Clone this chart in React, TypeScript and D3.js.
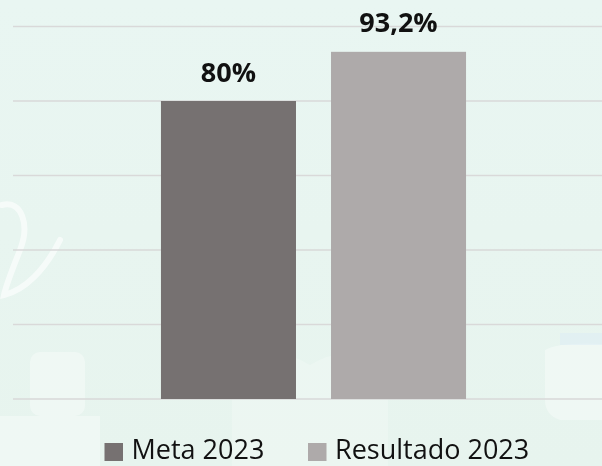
import React from "react";
import * as d3 from "d3";

const categories = ["2023"];
const series = ["Meta 2023", "Resultado 2023"];
const values = [80, 93.2];
const valueLabels = ["80%", "93,2%"];
const yTicks = [0, 20, 40, 60, 80, 100];
const colors = ["#767171", "#AEAAAA"];

const W = 602;
const H = 466;

export default function App() {
  const y = d3.scaleLinear().domain([0, 100]).range([399, 26.5]);
  const x0 = d3.scaleBand().domain(categories).range([13, 614]).paddingInner(0).paddingOuter(0.485);
  const x1 = d3.scaleBand().domain(series).range([0, x0.bandwidth()]).paddingInner(0.206).paddingOuter(0);

  const legendX = [104.5, 308];
  return (
    <svg width={W} height={H} style={{ position: "fixed", left: 0, top: 0, display: "block" }}
      fontFamily="'Open Sans', 'DejaVu Sans', sans-serif">
      <defs>
        <linearGradient id="bg" x1="0" y1="0" x2="0" y2="1">
          <stop offset="0" stopColor="#e9f6f2" />
          <stop offset="1" stopColor="#e7f4ee" />
        </linearGradient>
      </defs>
      <rect x={0} y={0} width={W} height={H} fill="url(#bg)" />
      {/* faint watermark */}
      <g fill="none" stroke="#ffffff" opacity={0.6} strokeWidth={6} strokeLinecap="round">
        <path d="M2,205 C22,200 30,225 20,250 C12,270 6,285 4,295 C25,290 45,270 60,240" />
      </g>
      <g fill="#ffffff" opacity={0.35}>
        <rect x={30} y={352} width={55} height={64} rx={10} />
        <rect x={0} y={416} width={100} height={50} />
        <path d="M232,466 L232,370 Q270,340 310,365 Q350,340 388,370 L388,466 Z" opacity={0.6} />
        <path d="M545,350 Q560,342 602,344 L602,420 L560,420 Q545,415 545,400 Z" />
      </g>
      <rect x={560} y={333} width={42} height={12} fill="#dcecf5" opacity={0.5} />
      {yTicks.map((t) => (
        <line key={t} x1={13} x2={W} y1={y(t)} y2={y(t)} stroke="#d9d9d9" strokeWidth={1.5} />
      ))}
      {categories.map((c) => (
        <g key={c} transform={`translate(${x0(c)},0)`}>
          {series.map((s, i) => {
            const bx = x1(s)!;
            const bw = x1.bandwidth();
            return (
              <g key={s}>
                <rect x={bx} y={y(values[i])} width={bw} height={y(0) - y(values[i])} fill={colors[i]} />
                <text x={bx + bw / 2} y={y(values[i]) - 19.5} textAnchor="middle" fontWeight={700}
                  fontSize={27} fill="#111">{valueLabels[i]}</text>
              </g>
            );
          })}
        </g>
      ))}
      {series.map((s, i) => (
        <g key={s}>
          <rect x={legendX[i]} y={443} width={18.5} height={18} fill={colors[i]} />
          <text x={legendX[i] + 27} y={458.5} fontSize={27} fill="#111">{s}</text>
        </g>
      ))}
    </svg>
  );
}
